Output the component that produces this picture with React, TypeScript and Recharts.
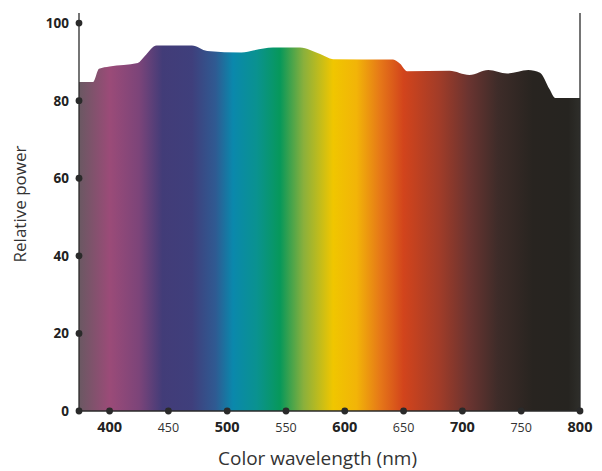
import { AreaChart, Area, XAxis, YAxis, ReferenceLine } from 'recharts';

// wavelength (nm) and relative power
const wavelengths = [374, 386, 391, 400, 424, 430, 440, 470, 483, 512, 523, 539, 562, 579, 590, 641, 647, 653, 689, 706, 722, 738, 756, 766, 774, 779, 800];
const power = [84.8, 84.8, 88.2, 88.8, 89.7, 91.5, 94.2, 94.2, 92.8, 92.4, 93.0, 93.7, 93.7, 92.0, 90.7, 90.6, 89.5, 87.6, 87.7, 86.6, 87.9, 87.0, 87.9, 87.2, 83.0, 80.7, 80.7];

const xTicks = [400, 450, 500, 550, 600, 650, 700, 750, 800];
const yTicks = [0, 20, 40, 60, 80, 100];

// spectrum colour stops: [wavelength, colour]
const spectrumNm = [374, 400, 425, 445, 470, 490, 505, 525, 545, 565, 590, 610, 630, 650, 680, 705, 730, 760, 790, 800];
const spectrumColors = ['#6a5862', '#9b4b78', '#7c4479', '#423c78', '#3f3f7c', '#2f5a92', '#0a88ac', '#0a9290', '#07985a', '#8ab03c', '#f0c600', '#f2b408', '#e67818', '#d2441c', '#a23c28', '#6b3430', '#3e2c29', '#282420', '#262420', '#2e2e2a'];

const data = wavelengths.map((nm, i) => ({ nm, power: power[i] }));

const FONT = '"Open Sans", sans-serif';
const INK = '#2a2a2a';

const XTick = (props: any) => {
    const { x, y, payload } = props;
    const major = payload.value % 100 === 0;
    return (
        <g>
            <circle cx={x} cy={y} r={3.4} fill={INK} />
            <text
                x={x}
                y={y + 21}
                textAnchor="middle"
                fontFamily={FONT}
                fontSize={major ? 14.5 : 12.5}
                fontWeight={major ? 700 : 400}
                fill={major ? '#222' : '#333'}
            >
                {payload.value}
            </text>
        </g>
    );
};

const YTick = (props: any) => {
    const { x, y, payload } = props;
    return (
        <g>
            <circle cx={x} cy={y} r={3.4} fill={INK} />
            <text
                x={x - 10}
                y={y + 5}
                textAnchor="end"
                fontFamily={FONT}
                fontSize={13.5}
                fontWeight={700}
                fill="#222"
            >
                {payload.value}
            </text>
        </g>
    );
};

const App = () => {
    const span = spectrumNm[spectrumNm.length - 1] - spectrumNm[0];
    return (
        <div style={{ position: 'absolute', left: 0, top: 0, background: '#fff' }}>
            <AreaChart
                width={602}
                height={471}
                data={data}
                margin={{ top: 13, right: 22, left: 0, bottom: 0 }}
            >
                <defs>
                    <linearGradient id="spectrum" x1="0" y1="0" x2="1" y2="0">
                        {spectrumNm.map((nm, i) => (
                            <stop
                                key={nm}
                                offset={(nm - spectrumNm[0]) / span}
                                stopColor={spectrumColors[i]}
                            />
                        ))}
                    </linearGradient>
                </defs>
                <XAxis
                    dataKey="nm"
                    type="number"
                    domain={[374, 800]}
                    ticks={xTicks}
                    height={60}
                    tickSize={0}
                    tickMargin={0}
                    tick={<XTick />}
                    axisLine={{ stroke: INK, strokeWidth: 1.3 }}
                    tickLine={false}
                    label={{
                        value: 'Color wavelength (nm)',
                        position: 'insideBottom',
                        offset: 6,
                        dx: -12,
                        style: { fontFamily: FONT, fontSize: 19, fill: '#333' },
                    }}
                />
                <YAxis
                    type="number"
                    domain={[0, 102.6]}
                    ticks={yTicks}
                    width={79}
                    tickSize={0}
                    tickMargin={0}
                    tick={<YTick />}
                    axisLine={{ stroke: INK, strokeWidth: 1.3 }}
                    tickLine={false}
                    label={{
                        value: 'Relative power',
                        angle: -90,
                        position: 'insideLeft',
                        offset: 20,
                        dy: -8,
                        style: { fontFamily: FONT, fontSize: 17, fill: '#333', textAnchor: 'middle' },
                    }}
                />
                <Area
                    type="monotone"
                    dataKey="power"
                    stroke="none"
                    fill="url(#spectrum)"
                    fillOpacity={1}
                    isAnimationActive={false}
                    dot={false}
                    activeDot={false}
                />
                <ReferenceLine x={800} stroke={INK} strokeWidth={1.3} />
            </AreaChart>
        </div>
    );
};

export default App;
